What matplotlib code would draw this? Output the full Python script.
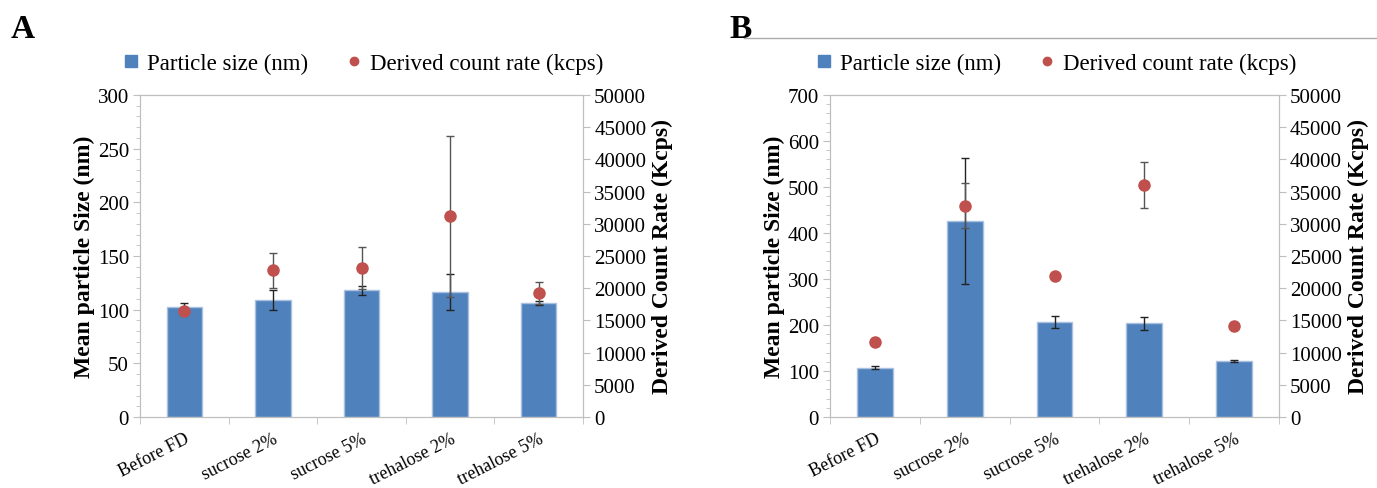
import matplotlib.pyplot as plt
from matplotlib.lines import Line2D
from matplotlib.ticker import MultipleLocator
import numpy as np

plt.rcParams['font.family'] = ['Liberation Serif', 'DejaVu Serif']

categories = ['Before FD', 'sucrose 2%', 'sucrose 5%', 'trehalose 2%', 'trehalose 5%']

# panel A
size_a = [102.5, 109, 118, 116.5, 106.5]
size_a_err = [4, 9, 4, 17, 2]
rate_a = [16460, 22790, 23160, 31190, 19300]
rate_a_err = [600, 2700, 3300, 12500, 1700]

# panel B
size_b = [107, 426, 206.5, 203.5, 121.5]
size_b_err = [3, 137, 14, 13.5, 3]
rate_b = [11680, 32840, 21920, 36030, 14130]
rate_b_err = [0, 3430, 0, 3630, 400]

bar_color = '#4F81BD'
dot_color = '#C0504D'
spine_color = '#BFBFBF'


def draw_panel(ax, sizes, size_err, rates, rate_err, ymax, step):
    x = np.arange(len(categories))
    ax.bar(x, sizes, width=0.4, color=bar_color, edgecolor='#A9C1DF',
           linewidth=1, zorder=2, label='Particle size (nm)')
    ax.errorbar(x, sizes, yerr=size_err, fmt='none', ecolor='#222222',
                elinewidth=1, capsize=3, capthick=1, zorder=3)
    ax.set_xlim(-0.5, len(categories) - 0.5)
    ax.set_ylim(0, ymax)
    ax.set_yticks(np.arange(0, ymax + 1, step))
    ax.yaxis.set_minor_locator(MultipleLocator(step / 5))
    ax.set_xticks(x)
    ax.set_xticklabels(categories, rotation=27, ha='right', fontsize=13,
                       rotation_mode='anchor')
    ax.tick_params(axis='x', length=0, pad=9)
    ax.set_xticks(np.arange(-0.5, len(categories), 1), minor=True)
    ax.tick_params(axis='x', which='minor', length=5, color=spine_color)
    ax.tick_params(axis='y', labelsize=15, length=5, color=spine_color, pad=3)
    ax.tick_params(axis='y', which='minor', length=3, color=spine_color)
    ax.set_ylabel('Mean particle Size (nm)', fontsize=17, fontweight='bold',
                  labelpad=2)
    for sp in ax.spines.values():
        sp.set_color(spine_color)

    ax2 = ax.twinx()
    ax2.errorbar(x, rates, yerr=rate_err, fmt='o', color=dot_color,
                 markersize=8, ecolor='#555555', elinewidth=1, capsize=3,
                 capthick=1, zorder=4, label='Derived count rate (kcps)')
    ax2.set_ylim(0, 50000)
    ax2.set_yticks(np.arange(0, 50001, 5000))
    ax2.tick_params(axis='y', labelsize=15, length=5, color=spine_color, pad=3)
    ax2.set_ylabel('Derived Count Rate (Kcps)', fontsize=17, fontweight='bold',
                   labelpad=4)
    for sp in ax2.spines.values():
        sp.set_color(spine_color)
    return ax2


fig = plt.figure(figsize=(13.77, 4.89), dpi=100)
axA = fig.add_axes([0.1017, 0.1452, 0.3217, 0.6585])
axB = fig.add_axes([0.6028, 0.1452, 0.326, 0.6585])

draw_panel(axA, size_a, size_a_err, rate_a, rate_a_err, 300, 50)
draw_panel(axB, size_b, size_b_err, rate_b, rate_b_err, 700, 100)

handles = [Line2D([], [], marker='s', color=bar_color, linestyle='none', markersize=9),
           Line2D([], [], marker='o', color=dot_color, linestyle='none', markersize=6)]
labels = ['Particle size (nm)', 'Derived count rate (kcps)']
for ax in (axA, axB):
    ax.legend(handles, labels, loc='lower center', bbox_to_anchor=(0.5, 1.0),
              ncol=2, frameon=False, fontsize=16.5, handlelength=1.0,
              handletextpad=0.2, columnspacing=1.5, borderaxespad=0.5)

fig.text(0.008, 0.94, 'A', fontsize=24, fontweight='bold', va='center')
fig.text(0.530, 0.94, 'B', fontsize=24, fontweight='bold', va='center')
fig.add_artist(Line2D([0.54, 1.0], [0.92, 0.92], color='#AAAAAA', linewidth=1))

fig.savefig('out.png', dpi=100)
